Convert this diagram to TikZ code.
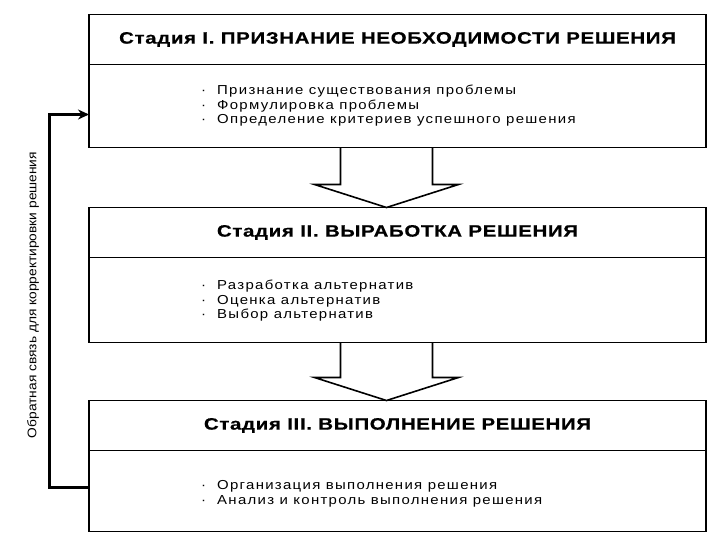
\documentclass[tikz,border=0pt]{standalone}
\usepackage{fontspec}
\setmainfont{Liberation Sans}
\newfontfamily\widefont[FakeStretch=1.15,LetterSpace=10]{Liberation Sans}
\newfontfamily\headfont[FakeStretch=1.24,LetterSpace=4,BoldFeatures={FakeBold=0.6}]{Liberation Sans}
\newfontfamily\fbfont[FakeStretch=1.1]{Liberation Sans}
\usetikzlibrary{positioning,calc,arrows.meta}

\newcommand{\itm}{\makebox[16bp][l]{·}}

\tikzset{
  stagetitle/.style={draw, line width=1.2bp, outer sep=0pt, minimum width=617bp,
    minimum height=50bp, font=\headfont\fontsize{16.5bp}{20bp}\selectfont\bfseries},
  stagebody/.style={draw, line width=1.2bp, outer sep=0pt, minimum width=617bp},
  items/.style={align=left, inner sep=0pt, font=\widefont\fontsize{13bp}{14.5bp}\selectfont},
  hollow/.style={line width=1.6bp, line join=miter},
  fback/.style={line width=3bp, -{Stealth[length=11bp,width=10bp]}}
}

\begin{document}
\begin{tikzpicture}[x=1bp,y=-1bp]
\useasboundingbox (0,0) rectangle (720,540);

% stage I
\node[stagetitle] (t1) at (397.5,39.5) {Стадия I. ПРИЗНАНИЕ НЕОБХОДИМОСТИ РЕШЕНИЯ};
\node[stagebody, minimum height=83bp, below=0pt of t1] (b1) {};
\node[items, right=112bp of b1.west] (l1) {\itm Признание существования проблемы\\
  \itm Формулировка проблемы\\
  \itm Определение критериев успешного решения};

% stage II
\node[stagetitle] (t2) at (397.5,232.5) {Стадия II. ВЫРАБОТКА РЕШЕНИЯ};
\node[stagebody, minimum height=85bp, below=0pt of t2] (b2) {};
\node[items, right=112bp of b2.west, yshift=-1bp] (l2) {\itm Разработка альтернатив\\
  \itm Оценка альтернатив\\
  \itm Выбор альтернатив};

% stage III
\node[stagetitle] (t3) at (397.5,425.5) {Стадия III. ВЫПОЛНЕНИЕ РЕШЕНИЯ};
\node[stagebody, minimum height=81bp, below=0pt of t3] (b3) {};
\node[items, right=112bp of b3.west, yshift=-3bp] (l3) {\itm Организация выполнения решения\\
  \itm Анализ и контроль выполнения решения};

% block arrows between stages
\foreach \s/\e in {b1/t2, b2/t3} {
  \coordinate (a) at ([xshift=-11bp]\s.south);
  \coordinate (h) at ([xshift=-11bp]\e.north);
  \draw[hollow] ($(a)+(-46,0)$) -- ($(h)+(-46,-23)$) -- ($(h)+(-72,-23)$) -- (h)
    -- ($(h)+(72,-23)$) -- ($(h)+(46,-23)$) -- ($(a)+(46,0)$);
}

% feedback
\draw[fback] ([yshift=3.5bp]b3.west) -- ++(-39,0) |- ([yshift=-8.5bp]b1.west);
\node[rotate=90, font=\fbfont\fontsize{12.5bp}{14bp}\selectfont] (fb) at (33,295)
  {Обратная связь для корректировки решения};
\end{tikzpicture}
\end{document}
